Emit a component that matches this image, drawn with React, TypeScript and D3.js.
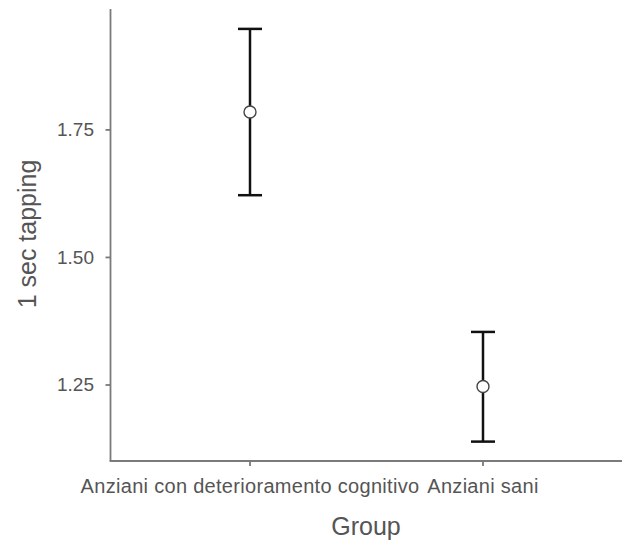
import React from "react";
import * as d3 from "d3";

const groups = ["Anziani con deterioramento cognitivo", "Anziani sani"];
const means = [1.785, 1.247];
const lowers = [1.622, 1.139];
const uppers = [1.948, 1.354];
const yTicks = [1.25, 1.5, 1.75];
const yTitle = "1 sec tapping";
const xTitle = "Group";

const W = 622;
const H = 541;
const left = 110.5;
const right = 622;
const top = 9;
const bottom = 461;

export default function App() {
  const y = d3.scaleLinear().domain([1.101, 1.987]).range([bottom, top]);
  const x = d3.scalePoint<string>().domain(groups).range([250, 483]);
  const font = "'Liberation Sans', Arial, sans-serif";
  const axisColor = "#7a7a7a";
  const textColor = "#555";
  return (
    <svg width={W} height={H} style={{ position: "absolute", left: 0, top: 0, background: "#fff" }}>
      {/* axes */}
      <line x1={left} x2={left} y1={top} y2={bottom} stroke={axisColor} strokeWidth={1.8} />
      <line x1={left - 0.9} x2={right} y1={bottom} y2={bottom} stroke={axisColor} strokeWidth={1.8} />
      {yTicks.map((t) => (
        <g key={t}>
          <line x1={left - 5} x2={left} y1={y(t)} y2={y(t)} stroke={axisColor} strokeWidth={1.8} />
          <text x={94} y={y(t)} textAnchor="end" dominantBaseline="central" fontFamily={font} fontSize={19} fill={textColor}>
            {t.toFixed(2)}
          </text>
        </g>
      ))}
      {groups.map((g) => (
        <g key={g}>
          <line x1={x(g)} x2={x(g)} y1={bottom} y2={bottom + 5} stroke={axisColor} strokeWidth={1.8} />
          <text x={x(g)} y={493} textAnchor="middle" fontFamily={font} fontSize={20} letterSpacing={0.3} fill={textColor}>
            {g}
          </text>
        </g>
      ))}
      <text x={366} y={535} textAnchor="middle" fontFamily={font} fontSize={25} fill={textColor}>
        {xTitle}
      </text>
      <text transform={`translate(36,234) rotate(-90)`} textAnchor="middle" fontFamily={font} fontSize={25} fill={textColor}>
        {yTitle}
      </text>
      {/* error bars */}
      {groups.map((g, i) => {
        const cx = x(g) as number;
        return (
          <g key={g}>
            <line x1={cx} x2={cx} y1={y(uppers[i])} y2={y(lowers[i])} stroke="#111" strokeWidth={2.5} />
            <line x1={cx - 12} x2={cx + 12} y1={y(uppers[i])} y2={y(uppers[i])} stroke="#111" strokeWidth={2.5} />
            <line x1={cx - 12} x2={cx + 12} y1={y(lowers[i])} y2={y(lowers[i])} stroke="#111" strokeWidth={2.5} />
            <circle cx={cx} cy={y(means[i])} r={6} fill="#fff" stroke="#444" strokeWidth={1.4} />
          </g>
        );
      })}
    </svg>
  );
}
